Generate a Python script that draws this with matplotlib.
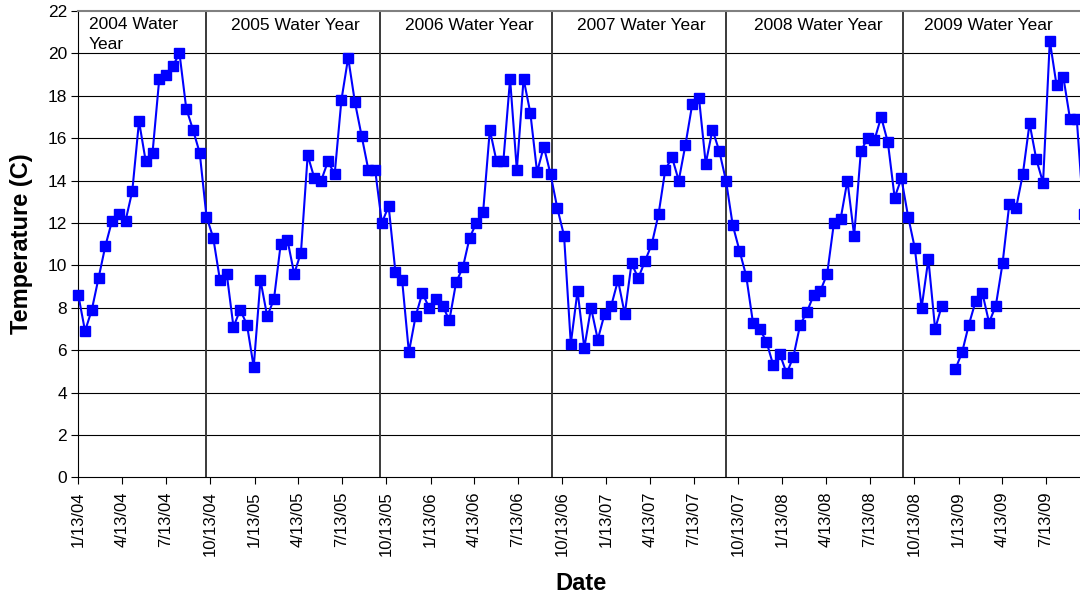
import numpy as np
import pandas as pd
import matplotlib
matplotlib.use('Agg')
import matplotlib.pyplot as plt

plt.rcParams['font.family'] = ['Liberation Sans', 'DejaVu Sans']

# biweekly water temperature samples starting 1/13/04 (nan = missed sample)
temps = [8.6, 6.9, 7.9, 9.4, 10.9, 12.1, 12.4, 12.1, 13.5, 16.8,
         14.9, 15.3, 18.8, 19.0, 19.4, 20.0, 17.4, 16.4, 15.3, 12.3,
         11.3, 9.3, 9.6, 7.1, 7.9, 7.2, 5.2, 9.3, 7.6, 8.4,
         11.0, 11.2, 9.6, 10.6, 15.2, 14.1, 14.0, 14.9, 14.3, 17.8,
         19.8, 17.7, 16.1, 14.5, 14.5, 12.0, 12.8, 9.7, 9.3, 5.9,
         7.6, 8.7, 8.0, 8.4, 8.1, 7.4, 9.2, 9.9, 11.3, 12.0,
         12.5, 16.4, 14.9, 14.9, 18.8, 14.5, 18.8, 17.2, 14.4, 15.6,
         14.3, 12.7, 11.4, 6.3, 8.8, 6.1, 8.0, 6.5, 7.7, 8.1,
         9.3, 7.7, 10.1, 9.4, 10.2, 11.0, 12.4, 14.5, 15.1, 14.0,
         15.7, 17.6, 17.9, 14.8, 16.4, 15.4, 14.0, 11.9, 10.7, 9.5,
         7.3, 7.0, 6.4, 5.3, 5.8, 4.9, 5.7, 7.2, 7.8, 8.6,
         8.8, 9.6, 12.0, 12.2, 14.0, 11.4, 15.4, 16.0, 15.9, 17.0,
         15.8, 13.2, 14.1, 12.3, 10.8, 8.0, 10.3, 7.0, 8.1, np.nan,
         5.1, 5.9, 7.2, 8.3, 8.7, 7.3, 8.1, 10.1, 12.9, 12.7,
         14.3, 16.7, 15.0, 13.9, 20.6, 18.5, 18.9, 16.9, 16.9, 12.4]
dates = pd.date_range('2004-01-13', periods=len(temps), freq='14D')

tick_dates = pd.date_range('2004-01-13', '2009-07-13', freq=pd.DateOffset(months=3))
tick_labels = [f"{d.month}/{d.day}/{d:%y}" for d in tick_dates]

divider_dates = pd.to_datetime(['2004-10-03', '2005-09-30', '2006-09-23',
                                '2007-09-19', '2008-09-20'])
year_labels = ['2005 Water Year', '2006 Water Year', '2007 Water Year',
               '2008 Water Year', '2009 Water Year']
year_label_px = [295, 469, 641, 818, 988]

fig = plt.figure(figsize=(10.8, 5.98), dpi=100)
ax = fig.add_axes([78.3 / 1080, 0.2018, 1006.2 / 1080, 0.7798])

for y in range(2, 22, 2):
    ax.axhline(y, color='black', lw=0.8, zorder=1)
for d in divider_dates:
    ax.axvline(d, color='#3a3a3a', lw=1.4, zorder=1)

ax.plot(dates, temps, color='#0000ff', lw=1.5, marker='s', ms=7.5,
        mfc='#0000ff', mec='#0000ff', clip_on=False, zorder=3)

ax.set_xlim(pd.Timestamp('2004-01-13'), pd.Timestamp('2009-10-01'))
ax.set_ylim(0, 22)
ax.set_yticks(range(0, 23, 2))
ax.set_xticks(tick_dates)
ax.set_xticklabels(tick_labels, rotation=90, fontsize=12)
ax.tick_params(axis='y', labelsize=12.5, length=5, width=0.8, pad=3, direction='out')
ax.tick_params(axis='x', length=5, width=0.8, pad=5, direction='out')

ax.spines['top'].set_color('#808080')
ax.spines['top'].set_linewidth(1.5)
ax.spines['right'].set_visible(False)
ax.spines['left'].set_linewidth(0.8)
ax.spines['bottom'].set_linewidth(0.8)

fig.text(89 / 1080, 1 - 17 / 598, '2004 Water\nYear', ha='left', va='top',
         fontsize=12.5, linespacing=1.45)
for lab, px in zip(year_labels, year_label_px):
    fig.text(px / 1080, 1 - 25 / 598, lab, ha='center', va='center', fontsize=12.5)

fig.text(22 / 1080, 1 - 244 / 598, 'Temperature (C)', rotation=90, ha='center',
         va='center', fontsize=17, fontweight='bold')
fig.text(581 / 1080, 1 - 583 / 598, 'Date', ha='center', va='center',
         fontsize=17, fontweight='bold')

fig.savefig('out.png', dpi=100)
